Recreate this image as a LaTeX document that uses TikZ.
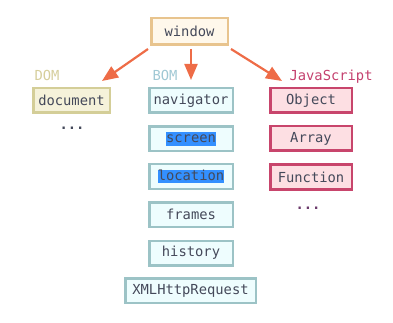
\documentclass[tikz,border=0pt]{standalone}
\usepackage{fontspec}
\usepackage{xcolor}
\usepackage{tikz}
\usetikzlibrary{arrows.meta}
\newfontfamily\codefont{DejaVu Sans Mono}
\definecolor{winfill}{HTML}{FFF8EB}
\definecolor{winline}{HTML}{E8C48E}
\definecolor{domfill}{HTML}{F5F2DA}
\definecolor{domline}{HTML}{D4CE98}
\definecolor{bomfill}{HTML}{EEFDFE}
\definecolor{bomline}{HTML}{9CC3C6}
\definecolor{jsfill}{HTML}{FDDFE3}
\definecolor{jsline}{HTML}{C8456C}
\definecolor{arrowcol}{HTML}{EE6C47}
\definecolor{txtcol}{HTML}{44495A}
\definecolor{hlblue}{HTML}{3390FF}
\definecolor{domlabel}{HTML}{D6CE9C}
\definecolor{bomlabel}{HTML}{A0C8D4}
\definecolor{jslabel}{HTML}{C4406E}
\definecolor{jsdots}{HTML}{6B3A6B}
\newcommand{\hlsel}[1]{{\setlength{\fboxsep}{0pt}\colorbox{hlblue}{\vphantom{Ag}#1}}}

\begin{document}
\begin{tikzpicture}[x=1pt, y=-1pt, font=\codefont\fontsize{13.8pt}{16pt}\selectfont,
    box/.style={draw, line width=2.5pt, inner sep=0pt, minimum height=24.5pt, text=txtcol},
    winbox/.style={box, fill=winfill, draw=winline, minimum width=76.5pt, minimum height=26.5pt},
    dombox/.style={box, fill=domfill, draw=domline, minimum width=76.5pt},
    bombox/.style={box, fill=bomfill, draw=bomline, minimum width=83.5pt},
    jsbox/.style={box, fill=jsfill, draw=jsline, minimum width=81.5pt},
    link/.style={draw=arrowcol, line width=2.2pt, -{Triangle[length=16pt,width=13pt]}}]
        \useasboundingbox (0,0) rectangle (393,323);
        % root
        \node[winbox] (win) at (189.5,31.5) {window};
        % DOM
        \node[text=domlabel, anchor=base west] (domlbl) at (31,81) {DOM};
        \node[dombox] (document) at (71.5,100.5) {document};
        \node[text=txtcol, anchor=base] (domdots) at (72,130) {\bfseries ...};
        % BOM
        \node[text=bomlabel, anchor=base west] (bomlbl) at (149,81) {BOM};
        \node[bombox] (navigator) at (191,100.5) {navigator};
        \node[bombox] (screen) at (191,139) {\hlsel{screen}};
        \node[bombox] (location) at (191,176.5) {\hlsel{location}};
        \node[bombox] (frames) at (191,214.5) {frames};
        \node[bombox] (history) at (191,253) {history};
        \node[bombox, minimum width=130.5pt] (xhr) at (190.5,290.5) {XMLHttpRequest};
        % JavaScript
        \node[text=jslabel, anchor=base west] (jslbl) at (286,81) {JavaScript};
        \node[jsbox] (object) at (311,100.5) {Object};
        \node[jsbox] (array) at (311,138.5) {Array};
        \node[jsbox] (function) at (311,177) {Function};
        \node[text=jsdots, anchor=base] (jsdotsnode) at (308,209) {\bfseries ...};
        % arrows
        \coordinate (domtip) at (102,81);
        \coordinate (bomtip) at (191,80);
        \coordinate (jstip) at (282,81);
        \draw[link] ([shift={(-2,3)}]win.south west) -- (domtip);
        \draw[link] ([shift={(1.5,3)}]win.south) -- (bomtip);
        \draw[link] ([shift={(2,3)}]win.south east) -- (jstip);
      \end{tikzpicture}
\end{document}
